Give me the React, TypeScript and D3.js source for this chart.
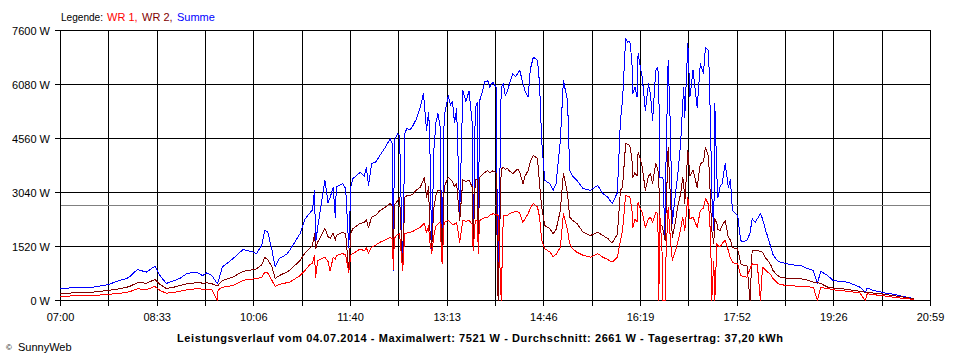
import React from "react";
import * as d3 from "d3";

// minutes after 07:00
const minutes = [
  0, 14, 31, 45, 57, 64, 67, 74, 83, 91,
  96, 102, 110, 115, 122, 131, 134, 137, 141, 146,
  151, 152, 156, 166, 176, 180, 184, 189, 194, 197,
  200, 204, 207, 211, 218, 221, 231, 236, 240, 243,
  245, 246, 248, 255, 258, 260, 263, 265, 266, 272,
  275, 278, 280, 282, 289, 293, 295, 297, 300, 304,
  308, 313, 318, 320, 321, 322, 325, 327, 330, 332,
  334, 337, 340, 343, 347, 350, 351, 353, 355, 356,
  358, 360, 362, 364, 366, 368, 370, 374, 376, 378,
  380, 382, 385, 388, 391, 394, 397, 398, 400, 402,
  403, 404, 407, 409, 412, 414, 417, 420, 422, 425,
  427, 429, 431, 433, 436, 439, 441, 443, 446, 448,
  451, 453, 456, 460, 462, 464, 467, 472, 475, 478,
  482, 485, 487, 489, 491, 494, 498, 504, 511, 518,
  523, 528, 532, 537, 540, 542, 545, 547, 549, 551,
  552, 554, 556, 557, 559, 561, 564, 567, 569, 571,
  574, 576, 577, 578, 580, 581, 583, 584, 586, 588,
  590, 593, 595, 598, 600, 601, 602, 605, 607, 610,
  614, 617, 620, 622, 625, 627, 628, 630, 631, 633,
  634, 636, 638, 641, 644, 646, 648, 651, 653, 656,
  658, 662, 665, 667, 670, 672, 675, 677, 680, 682,
  685, 687, 691, 694, 701, 707, 714, 720, 726, 730,
  733, 740, 745, 752, 759, 765, 771, 776, 778, 784,
  791, 798, 803, 810, 817, 823,
];

const summe = [
  340, 360, 375, 440, 563, 620, 675, 870, 800, 965,
  700, 480, 563, 620, 760, 800, 760, 700, 780, 700,
  480, 520, 940, 1170, 1435, 1400, 1380, 1320, 1550, 1970,
  1920, 1410, 940, 1180, 1300, 1410, 1880, 2300, 2450, 2550,
  3100, 1600, 2055, 3380, 2750, 2900, 3190, 2345, 3190, 3290,
  3150, 1500, 3200, 3430, 3610, 3500, 3750, 3240, 3850, 3900,
  4080, 4300, 4560, 4400, 850, 4500, 4700, 4650, 845, 4700,
  4840, 4800, 4930, 5100, 5440, 5830, 5500, 4790, 5300, 4700,
  1410, 4200, 5000, 5260, 4900, 1125, 5200, 5770, 5500, 5600,
  5000, 5400, 2450, 5910, 5600, 5900, 5000, 1500, 5400, 5580,
  1320, 5600, 5900, 6150, 6190, 6000, 6150, 6000, 0, 6000,
  6100, 5770, 5900, 6100, 6380, 6300, 6400, 6470, 6100, 5900,
  5730, 6500, 6850, 6760, 6100, 4500, 3380, 3290, 3100, 3300,
  4500, 6190, 5900, 5630, 3660, 3500, 3380, 3150, 3100, 3240,
  3010, 2900, 2730, 3030, 5070, 5630, 7370, 7270, 7300, 6760,
  5820, 6000, 5730, 6950, 6600, 6290, 5350, 6100, 5800, 5070,
  6480, 6570, 6000, 3470, 3470, 3470, 1780, 4000, 6760, 5000,
  2170, 3000, 3470, 4410, 5500, 6000, 5160, 7230, 5730, 6480,
  5440, 6660, 6400, 7130, 7040, 4790, 3000, 1970, 5540, 3500,
  2900, 3200, 3290, 3850, 3190, 3400, 2530, 2440, 2400, 1690,
  1650, 1690, 1900, 2300, 2200, 2300, 2440, 2300, 1970, 1800,
  1500, 1300, 1130, 1080, 1030, 1000, 985, 900, 845, 480,
  820, 700, 560, 540, 515, 450, 375, 225, 350, 280,
  240, 190, 180, 130, 90, 50,
];

const wr2 = [
  200, 215, 235, 280, 330, 375, 400, 500, 490, 590,
  450, 340, 380, 420, 470, 500, 515, 480, 500, 470,
  420, 430, 560, 655, 820, 845, 860, 890, 1000, 1210,
  1150, 940, 620, 700, 800, 850, 1125, 1350, 1460, 1550,
  1880, 1450, 1640, 2025, 1800, 1750, 1900, 1700, 1830, 1920,
  1880, 845, 1900, 2025, 2170, 2200, 2280, 2050, 2345, 2400,
  2530, 2620, 2730, 2650, 900, 2700, 2800, 2910, 900, 2900,
  2950, 2955, 3000, 3100, 3190, 3400, 3470, 2900, 3200, 2060,
  1500, 2600, 2950, 3100, 3100, 1100, 3200, 3470, 3400, 3350,
  3200, 3290, 2250, 3400, 3350, 3380, 3200, 1600, 3400, 3420,
  1320, 3450, 3550, 3600, 3660, 3600, 3650, 3600, 0, 3700,
  3750, 3700, 3710, 3650, 3570, 3650, 3700, 3600, 3290, 3500,
  3660, 3900, 4080, 4000, 3290, 2630, 2110, 2020, 1880, 2000,
  2530, 3570, 3300, 3000, 2345, 2250, 2170, 1920, 1830, 1920,
  1830, 1740, 1620, 1860, 3100, 3190, 4410, 4400, 4360, 4000,
  3470, 3600, 3500, 4170, 4000, 3750, 3100, 3500, 3570, 3300,
  3850, 3700, 3400, 2170, 2100, 2000, 1690, 2500, 4320, 3000,
  1780, 2200, 2620, 3000, 3470, 3300, 2720, 4220, 3500, 3660,
  3190, 3850, 3900, 4320, 4030, 2720, 2000, 1600, 2300, 2170,
  2000, 1970, 2100, 2250, 1780, 1700, 1500, 1460, 1460, 1030,
  1000, 985, 0, 1410, 1400, 1410, 1380, 1360, 1200, 1130,
  1000, 845, 720, 655, 620, 620, 610, 580, 515, 500,
  480, 375, 350, 340, 310, 280, 260, 235, 235, 210,
  190, 160, 140, 110, 80, 45,
];

const wr1 = [
  120, 130, 140, 170, 200, 235, 250, 330, 310, 395,
  280, 205, 230, 260, 300, 330, 340, 300, 320, 310,
  0, 300, 370, 420, 560, 590, 600, 620, 650, 800,
  770, 560, 395, 450, 500, 515, 700, 850, 1000, 1050,
  1270, 650, 1125, 1220, 1100, 830, 1220, 1150, 1270, 1320,
  1280, 800, 1280, 1320, 1450, 1400, 1480, 1330, 1500, 1560,
  1640, 1700, 1780, 1740, 870, 1760, 1850, 1880, 845, 1880,
  1900, 1920, 1950, 2000, 2060, 2150, 2170, 1900, 2100, 1690,
  1320, 1800, 2100, 2150, 2200, 1040, 2200, 2250, 2200, 2150,
  2150, 2200, 1640, 2250, 2230, 2250, 2150, 1410, 2250, 2250,
  1320, 2250, 2300, 2330, 2345, 2400, 2440, 2420, 2400, 0,
  2380, 2390, 2390, 2450, 2480, 2500, 2500, 2450, 2200, 2300,
  2440, 2600, 2730, 2630, 2345, 1690, 1460, 1360, 1240, 1300,
  1500, 2440, 2200, 1970, 1600, 1450, 1360, 1270, 1220, 1320,
  1220, 1150, 1080, 1220, 1690, 1970, 2955, 2930, 2910, 2600,
  2060, 2300, 2200, 2770, 2600, 2480, 2060, 2300, 2345, 2200,
  2480, 2450, 0, 2400, 1500, 0, 0, 1300, 2630, 1800,
  1130, 1400, 1600, 2000, 2345, 2200, 1970, 2910, 2300, 2345,
  2060, 2530, 2600, 2870, 2700, 1800, 0, 1100, 0, 1600,
  1550, 1500, 1600, 1690, 1410, 1200, 1080, 1030, 1030, 700,
  680, 655, 900, 1030, 1000, 1010, 0, 940, 850, 800,
  720, 620, 500, 450, 420, 410, 395, 385, 375, 0,
  360, 340, 300, 280, 260, 235, 210, 0, 190, 165,
  140, 115, 93, 70, 50, 25,
];

const yTicks = [0, 1520, 3040, 4560, 6080, 7600];
const xTickLabels = ["07:00", "08:33", "10:06", "11:40", "13:13", "14:46", "16:19", "17:52", "19:26", "20:59"];
const average = 2661;
const title =
  "Leistungsverlauf vom 04.07.2014 - Maximalwert: 7521 W - Durchschnitt: 2661 W - Tagesertrag: 37,20 kWh";

const FONT = "'Liberation Sans', Arial, sans-serif";

export default function App() {
  const x = d3.scaleLinear().domain([0, 839]).range([60.5, 930.5]);
  const y = d3.scaleLinear().domain([0, 7600]).range([300.5, 30.5]);
  const tickCount = 18;
  const xTicks = d3.range(tickCount + 1).map((i) => (i * 839) / tickCount);

  const mk = (vals: number[]) =>
    d3
      .line<number>()
      .x((_, i) => x(minutes[i]))
      .y((v) => y(v))(vals) || "";

  const series = [
    { vals: summe, color: "#0000ff" },
    { vals: wr2, color: "#800000" },
    { vals: wr1, color: "#ff0000" },
  ];

  return (
    <svg
      width={960}
      height={360}
      style={{ position: "absolute", left: 0, top: 0, background: "#fff" }}
      fontFamily={FONT}
    >
      <rect x={0} y={0} width={960} height={360} fill="#fff" />
      {/* legend */}
      <text y={20.5} fontSize={11}>
        <tspan x={61} fill="#000" textLength={42} lengthAdjust="spacingAndGlyphs">Legende:</tspan>
        <tspan x={107} fill="#ff0000">WR 1,</tspan>
        <tspan x={142} fill="#800000">WR 2,</tspan>
        <tspan x={177} fill="#0000ff">Summe</tspan>
      </text>

      {/* grid */}
      <g shapeRendering="crispEdges">
        {yTicks.map((t) => (
          <line key={"h" + t} x1={55} x2={931} y1={y(t)} y2={y(t)} stroke="#000" />
        ))}
        {xTicks.map((t, i) => (
          <line key={"v" + i} x1={x(t)} x2={x(t)} y1={30} y2={305.5} stroke="#000" />
        ))}
        <line x1={61} x2={930} y1={y(average)} y2={y(average)} stroke="#808080" />
      </g>

      {/* data */}
      <g fill="none" strokeWidth={1} strokeLinejoin="round" shapeRendering="crispEdges">
        {series.map((s) => (
          <path key={s.color} d={mk(s.vals)} stroke={s.color} />
        ))}
      </g>

      {/* y labels */}
      <g fontSize={11} textAnchor="end">
        {yTicks.map((t) => (
          <text key={"yl" + t} x={50} y={y(t) + 4}>
            {t} W
          </text>
        ))}
      </g>
      {/* x labels */}
      <g fontSize={11} textAnchor="middle">
        {xTickLabels.map((l, i) => (
          <text key={"xl" + i} x={x(xTicks[i * 2])} y={320.5}>
            {l}
          </text>
        ))}
      </g>

      <text x={177} y={341.5} fontSize={11} fontWeight="bold" textLength={606} lengthAdjust="spacing">
        {title}
      </text>
      <text x={6} y={350} fontSize={8}>
        ©
      </text>
      <text x={18} y={351} fontSize={11}>
        SunnyWeb
      </text>
    </svg>
  );
}
